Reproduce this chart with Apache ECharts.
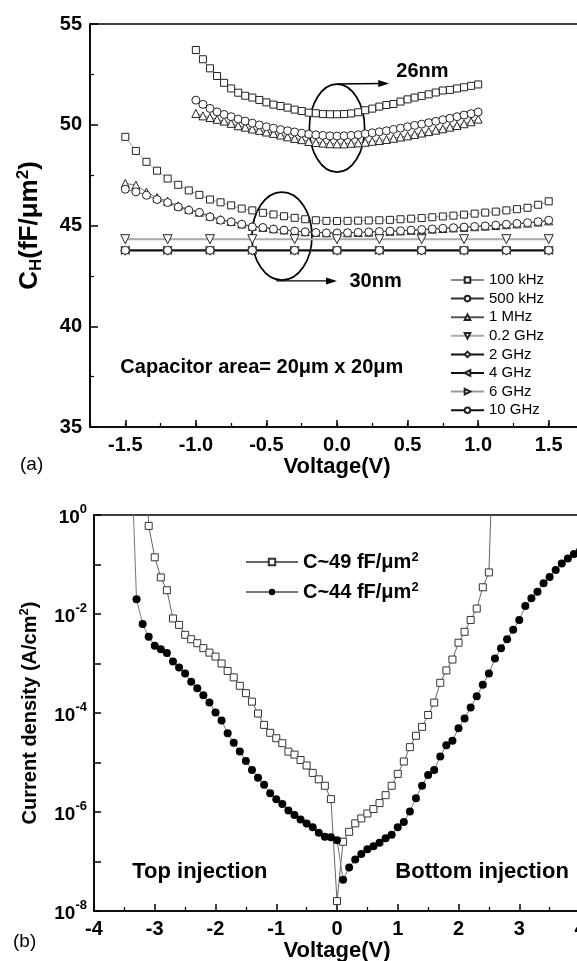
<!DOCTYPE html>
<html>
<head>
<meta charset="utf-8">
<title>Capacitance and leakage current</title>
<script src="https://cdn.jsdelivr.net/npm/echarts@6.0.0/dist/echarts.min.js"></script>
<style>
  html, body { margin: 0; padding: 0; background: #fff; }
  #main { width: 577px; height: 961px; }
</style>
</head>
<body>
<div id="main"></div>
<script>
  // ==== (a) C-V data ====
  const voltA26 = [-1.0, -0.95, -0.9, -0.85, -0.8, -0.75, -0.7, -0.65, -0.6, -0.55, -0.5, -0.45, -0.4, -0.35, -0.3, -0.25, -0.2, -0.15, -0.1, -0.05,
    0, 0.05, 0.1, 0.15, 0.2, 0.25, 0.3, 0.35, 0.4, 0.45, 0.5, 0.55, 0.6, 0.65, 0.7, 0.75, 0.8, 0.85, 0.9, 0.95, 1.0]
  const c26_100k = [53.71, 53.25, 52.8, 52.42, 52.08, 51.8, 51.59, 51.44, 51.35, 51.23, 51.11, 51.0, 50.93, 50.85, 50.75, 50.68, 50.6, 50.57, 50.53, 50.52,
    50.52, 50.53, 50.56, 50.62, 50.72, 50.8, 50.9, 50.98, 51.03, 51.15, 51.26, 51.35, 51.43, 51.51, 51.6, 51.7, 51.73, 51.8, 51.86, 51.93, 52.0]
  const c26_500k = [51.22, 51.01, 50.81, 50.64, 50.51, 50.4, 50.28, 50.18, 50.08, 49.99, 49.9, 49.83, 49.76, 49.7, 49.64, 49.58, 49.53, 49.5, 49.47, 49.45,
    49.44, 49.45, 49.47, 49.5, 49.55, 49.6, 49.65, 49.7, 49.77, 49.83, 49.9, 49.97, 50.03, 50.1, 50.17, 50.25, 50.32, 50.4, 50.48, 50.55, 50.63]
  const c26_1M = [50.56, 50.44, 50.36, 50.27, 50.18, 50.07, 49.95, 49.88, 49.79, 49.72, 49.64, 49.57, 49.49, 49.4, 49.32, 49.26, 49.17, 49.12, 49.09, 49.06,
    49.05, 49.05, 49.08, 49.1, 49.13, 49.18, 49.22, 49.27, 49.33, 49.39, 49.45, 49.52, 49.59, 49.66, 49.73, 49.8, 49.88, 49.96, 50.05, 50.15, 50.28]

  const voltA30 = [-1.5, -1.425, -1.35, -1.275, -1.2, -1.125, -1.05, -0.975, -0.9, -0.825, -0.75, -0.675, -0.6, -0.525, -0.45, -0.375, -0.3, -0.225, -0.15, -0.075,
    0, 0.075, 0.15, 0.225, 0.3, 0.375, 0.45, 0.525, 0.6, 0.675, 0.75, 0.825, 0.9, 0.975, 1.05, 1.125, 1.2, 1.275, 1.35, 1.425, 1.5]
  const c30_100k = [49.4, 48.7, 48.16, 47.72, 47.33, 47.02, 46.74, 46.52, 46.29, 46.15, 46.0, 45.84, 45.75, 45.63, 45.55, 45.46, 45.38, 45.31, 45.26, 45.23,
    45.22, 45.23, 45.24, 45.25, 45.26, 45.28, 45.31, 45.34, 45.37, 45.41, 45.45, 45.49, 45.54, 45.59, 45.64, 45.69, 45.75, 45.81, 45.88, 46.03, 46.2]
  const c30_500k = [46.8, 46.67, 46.5, 46.29, 46.14, 45.92, 45.76, 45.65, 45.43, 45.26, 45.18, 45.06, 44.93, 44.9, 44.82, 44.77, 44.72, 44.68, 44.65, 44.63,
    44.63, 44.64, 44.66, 44.68, 44.7, 44.72, 44.74, 44.77, 44.8, 44.83, 44.86, 44.89, 44.92, 44.95, 44.98, 45.02, 45.06, 45.1, 45.14, 45.19, 45.26]
  const c30_1M = [47.09, 47.0, 46.66, 46.38, 46.2, 45.98, 45.8, 45.66, 45.47, 45.3, 45.2, 45.08, 44.96, 44.91, 44.84, 44.78, 44.73, 44.69, 44.66, 44.64,
    44.63, 44.64, 44.65, 44.67, 44.69, 44.71, 44.73, 44.76, 44.79, 44.82, 44.85, 44.88, 44.91, 44.94, 44.97, 45.0, 45.04, 45.08, 45.12, 45.17, 45.23]

  const voltFlat = [-1.5, -1.2, -0.9, -0.6, -0.3, 0, 0.3, 0.6, 0.9, 1.2, 1.5]
  const c30_02G = [44.32, 44.32, 44.32, 44.32, 44.32, 44.32, 44.32, 44.32, 44.32, 44.32, 44.32]
  const c30_2G = [43.75, 43.75, 43.75, 43.75, 43.75, 43.75, 43.75, 43.75, 43.75, 43.75, 43.75]
  const c30_4G = [43.77, 43.77, 43.77, 43.77, 43.77, 43.77, 43.77, 43.77, 43.77, 43.77, 43.77]
  const c30_6G = [43.77, 43.77, 43.77, 43.77, 43.77, 43.77, 43.77, 43.77, 43.77, 43.77, 43.77]
  const c30_10G = [43.77, 43.77, 43.77, 43.77, 43.77, 43.77, 43.77, 43.77, 43.77, 43.77, 43.77]

  const freqNames = ['100 kHz', '500 kHz', '1 MHz', '0.2 GHz', '2 GHz', '4 GHz', '6 GHz', '10 GHz']
  const voltTicksA = [-1.5, -1.0, -0.5, 0, 0.5, 1.0, 1.5]

  // ==== (b) J-V data, log10(J) ====
  const voltSq = [-3.2, -3.1, -3.0, -2.9, -2.8, -2.7, -2.6, -2.5, -2.4, -2.3, -2.2, -2.1, -2.0, -1.9, -1.8, -1.7, -1.6, -1.5, -1.4, -1.3, -1.2, -1.1, -1.0,
    -0.9, -0.8, -0.7, -0.6, -0.5, -0.4, -0.3, -0.2, -0.1, 0.0, 0.1, 0.2, 0.3, 0.4, 0.5, 0.6, 0.7, 0.8, 0.9, 1.0, 1.1, 1.2, 1.3, 1.4, 1.5, 1.6, 1.7, 1.8,
    1.9, 2.0, 2.1, 2.2, 2.3, 2.4, 2.5, 2.6]
  const logJSq = [3.0, -0.22, -0.855, -1.26, -1.52, -2.09, -2.22, -2.42, -2.51, -2.59, -2.69, -2.78, -2.86, -3.0, -3.15, -3.28, -3.45, -3.6, -3.77, -4.01,
    -4.24, -4.4, -4.51, -4.61, -4.78, -4.84, -4.95, -5.06, -5.21, -5.34, -5.47, -5.74, -7.8, -6.6, -6.4, -6.23, -6.13, -6.03, -5.94, -5.82, -5.66,
    -5.47, -5.23, -4.98, -4.69, -4.46, -4.28, -4.04, -3.79, -3.39, -3.14, -2.92, -2.58, -2.36, -2.12, -1.89, -1.46, -1.16, 2.5]
  const voltCi = [-3.4, -3.3, -3.2, -3.1, -3.0, -2.9, -2.8, -2.7, -2.6, -2.5, -2.4, -2.3, -2.2, -2.1, -2.0, -1.9, -1.8, -1.7, -1.6, -1.5, -1.4, -1.3, -1.2,
    -1.1, -1.0, -0.9, -0.8, -0.7, -0.6, -0.5, -0.4, -0.3, -0.2, -0.1, 0.0, 0.1, 0.2, 0.3, 0.4, 0.5, 0.6, 0.7, 0.8, 0.9, 1.0, 1.1, 1.2, 1.3, 1.4, 1.5,
    1.6, 1.7, 1.8, 1.9, 2.0, 2.1, 2.2, 2.3, 2.4, 2.5, 2.6, 2.7, 2.8, 2.9, 3.0, 3.1, 3.2, 3.3, 3.4, 3.5, 3.6, 3.7, 3.8, 3.9, 4.0]
  const logJCi = [1.7, -1.7, -2.2, -2.46, -2.64, -2.71, -2.79, -2.96, -3.08, -3.2, -3.37, -3.5, -3.64, -3.79, -3.99, -4.15, -4.41, -4.6, -4.78, -4.97,
    -5.15, -5.31, -5.45, -5.62, -5.74, -5.84, -5.97, -6.06, -6.15, -6.23, -6.31, -6.42, -6.5, -6.51, -6.57, -7.37, -7.12, -6.96, -6.85, -6.75, -6.69,
    -6.62, -6.53, -6.46, -6.31, -6.2, -5.99, -5.72, -5.47, -5.25, -5.15, -4.88, -4.65, -4.56, -4.31, -4.11, -3.89, -3.66, -3.43, -3.2, -2.9, -2.69,
    -2.51, -2.32, -2.12, -1.84, -1.68, -1.55, -1.38, -1.25, -1.11, -0.98, -0.88, -0.79, -0.72]
  const jNames = ['C~49 fF/μm2', 'C~44 fF/μm2']

  // ==== helpers ====
  const FONT = '"Liberation Sans", Arial, Helvetica, sans-serif'
  const zip = (xs, ys) => xs.map((x, i) => [x, ys[i]])
  const toJ = (xs, logs) => xs.map((x, i) => {
    const item = { value: [x, Math.pow(10, logs[i])] }
    if (logs[i] > 0) item.symbol = 'none' // off-scale point, only steers the line
    return item
  })

  const capSeries = (name, xs, ys, symbol, opts = {}) => ({
    name,
    type: 'line',
    xAxisIndex: 0,
    yAxisIndex: 0,
    data: zip(xs, ys),
    symbol,
    symbolSize: opts.size || 7,
    symbolRotate: opts.rotate || 0,
    showSymbol: true,
    animation: false,
    itemStyle: { color: '#fff', borderColor: '#222', borderWidth: 1 },
    lineStyle: { color: opts.line || '#555', width: opts.width || 0.8 },
    emphasis: { disabled: true }
  })

  const axisLineStyle = { color: '#000', width: 1.6 }
  const tickLabel = { color: '#000', fontSize: 20, fontWeight: 'bold', fontFamily: FONT }
  const axisName = { color: '#000', fontSize: 22, fontWeight: 'bold', fontFamily: FONT }

  const chart = echarts.init(document.getElementById('main'))

  chart.setOption({
    backgroundColor: '#fff',
    animation: false,
    grid: [
      { left: 90, top: 24, width: 494, height: 403, outerBoundsMode: 'none', show: true, borderColor: '#000', borderWidth: 1.6 },
      { left: 94, top: 515, width: 486, height: 396, outerBoundsMode: 'none', show: true, borderColor: '#000', borderWidth: 1.6 }
    ],
    xAxis: [
      {
        gridIndex: 0,
        type: 'value',
        min: -1.75,
        max: 1.75,
        axisLine: { onZero: false, lineStyle: axisLineStyle },
        axisTick: { inside: true, length: 7, customValues: voltTicksA, lineStyle: { color: '#000', width: 1.5 } },
        axisLabel: { ...tickLabel, margin: 8, customValues: voltTicksA, formatter: (v) => v.toFixed(1) },
        splitLine: { show: false },
        name: 'Voltage(V)',
        nameLocation: 'middle',
        nameGap: 27,
        nameTextStyle: axisName
      },
      {
        gridIndex: 0,
        type: 'value',
        position: 'bottom',
        min: -1.75,
        max: 1.75,
        interval: 0.25,
        axisLine: { show: false, onZero: false },
        axisTick: { inside: true, length: 4, lineStyle: { color: '#000', width: 1.2 } },
        axisLabel: { show: false },
        splitLine: { show: false }
      },
      {
        gridIndex: 1,
        type: 'value',
        min: -4,
        max: 4,
        interval: 1,
        axisLine: { onZero: false, lineStyle: axisLineStyle },
        axisTick: { inside: true, length: 7, lineStyle: { color: '#000', width: 1.5 } },
        minorTick: { show: true, splitNumber: 2, length: 4, lineStyle: { color: '#000', width: 1.2 } },
        axisLabel: { ...tickLabel, margin: 8 },
        splitLine: { show: false },
        name: 'Voltage(V)',
        nameLocation: 'middle',
        nameGap: 22,
        nameTextStyle: axisName
      }
    ],
    yAxis: [
      {
        gridIndex: 0,
        type: 'value',
        min: 35,
        max: 55,
        interval: 5,
        axisLine: { onZero: false, lineStyle: axisLineStyle },
        axisTick: { inside: true, length: 8, lineStyle: { color: '#000', width: 1.5 } },
        minorTick: { show: true, splitNumber: 2, length: 4, lineStyle: { color: '#000', width: 1.2 } },
        axisLabel: { ...tickLabel, margin: 8 },
        splitLine: { show: false },
        name: '{b|C}{sub|H}{b|(fF/μm}{sup|2}{b|)}',
        nameLocation: 'middle',
        nameRotate: 90,
        nameGap: 45,
        nameTextStyle: {
          color: '#000',
          fontFamily: FONT,
          rich: {
            b: { fontSize: 26, fontWeight: 'bold', fontFamily: FONT, lineHeight: 30, verticalAlign: 'middle' },
            sub: { fontSize: 17, fontWeight: 'bold', fontFamily: FONT, lineHeight: 14, verticalAlign: 'bottom' },
            sup: { fontSize: 17, fontWeight: 'bold', fontFamily: FONT, lineHeight: 14, verticalAlign: 'top' }
          }
        }
      },
      {
        gridIndex: 1,
        type: 'log',
        logBase: 10,
        min: 1e-8,
        max: 1,
        splitNumber: 8,
        axisLine: { onZero: false, lineStyle: axisLineStyle },
        axisTick: { inside: true, length: 7, lineStyle: { color: '#000', width: 1.5 } },
        axisLabel: {
          margin: 7,
          formatter: (v) => {
            const e = Math.round(Math.log10(v))
            return e % 2 === 0 ? '{b|10}{s|' + e + '}' : ''
          },
          rich: {
            b: { color: '#000', fontSize: 19, fontWeight: 'bold', fontFamily: FONT, lineHeight: 24, verticalAlign: 'bottom' },
            s: { color: '#000', fontSize: 13, fontWeight: 'bold', fontFamily: FONT, lineHeight: 12, verticalAlign: 'top' }
          }
        },
        splitLine: { show: false },
        name: '{b|Current density (A/cm}{sup|2}{b|)}',
        nameLocation: 'middle',
        nameRotate: 90,
        nameGap: 52,
        nameTextStyle: {
          color: '#000',
          rich: {
            b: { fontSize: 20, fontWeight: 'bold', fontFamily: FONT, lineHeight: 24, verticalAlign: 'middle' },
            sup: { fontSize: 13, fontWeight: 'bold', fontFamily: FONT, lineHeight: 12, verticalAlign: 'top' }
          }
        }
      }
    ],
    legend: [
      {
        data: freqNames,
        orient: 'vertical',
        left: 445,
        top: 267,
        itemWidth: 33,
        itemHeight: 7,
        itemGap: 2.6,
        selectedMode: false,
        textStyle: { color: '#000', fontSize: 15, fontFamily: FONT, lineHeight: 16 }
      },
      {
        data: jNames,
        orient: 'vertical',
        left: 240,
        top: 546,
        itemWidth: 52,
        itemHeight: 8,
        itemGap: 8,
        selectedMode: false,
        formatter: (name) => name.replace('μm2', 'μm{s|2}'),
        textStyle: {
          color: '#000',
          fontSize: 20,
          fontWeight: 'bold',
          fontFamily: FONT,
          lineHeight: 22,
          rich: { s: { color: '#000', fontSize: 13, fontWeight: 'bold', fontFamily: FONT, lineHeight: 12, verticalAlign: 'top' } }
        }
      }
    ],
    series: [
      // 30 nm
      capSeries('100 kHz', voltA30, c30_100k, 'rect', { line: '#888' }),
      capSeries('1 MHz', voltA30, c30_1M, 'triangle', { size: 8 }),
      capSeries('500 kHz', voltA30, c30_500k, 'circle', { size: 8, line: '#333' }),
      capSeries('0.2 GHz', voltFlat, c30_02G, 'triangle', { size: 9, rotate: 180, line: '#aaa', width: 2 }),
      capSeries('2 GHz', voltFlat, c30_2G, 'diamond', { size: 9, line: '#111', width: 1.4 }),
      capSeries('4 GHz', voltFlat, c30_4G, 'triangle', { size: 8, rotate: 90, line: '#111', width: 1.4 }),
      capSeries('6 GHz', voltFlat, c30_6G, 'triangle', { size: 8, rotate: -90, line: '#999', width: 1.4 }),
      capSeries('10 GHz', voltFlat, c30_10G, 'circle', { size: 8, line: '#111', width: 1.5 }),
      // 26 nm
      capSeries('100 kHz', voltA26, c26_100k, 'rect', { line: '#888' }),
      capSeries('1 MHz', voltA26, c26_1M, 'triangle', { size: 8 }),
      capSeries('500 kHz', voltA26, c26_500k, 'circle', { size: 8, line: '#333' }),
      // (b)
      {
        name: jNames[0],
        type: 'line',
        xAxisIndex: 2,
        yAxisIndex: 1,
        data: toJ(voltSq, logJSq),
        symbol: 'rect',
        symbolSize: 7,
        itemStyle: { color: '#fff', borderColor: '#333', borderWidth: 1 },
        lineStyle: { color: '#666', width: 1 },
        emphasis: { disabled: true }
      },
      {
        name: jNames[1],
        type: 'line',
        xAxisIndex: 2,
        yAxisIndex: 1,
        data: toJ(voltCi, logJCi),
        symbol: 'circle',
        symbolSize: 8,
        itemStyle: { color: '#000' },
        lineStyle: { color: '#777', width: 1 },
        emphasis: { disabled: true }
      }
    ]
  })

  // ==== annotations (ellipses, arrows, texts) ====
  const pa = (x, y) => chart.convertToPixel({ xAxisIndex: 0, yAxisIndex: 0 }, [x, y])
  const pb = (x, y) => chart.convertToPixel({ xAxisIndex: 2, yAxisIndex: 1 }, [x, y])

  const ellipse = (c, rx, ry) => ({
    type: 'ellipse',
    shape: { cx: c[0], cy: c[1], rx, ry },
    style: { fill: 'none', stroke: '#000', lineWidth: 1.7 },
    silent: true
  })
  const arrow = (a, b) => [
    { type: 'line', shape: { x1: a[0], y1: a[1], x2: b[0] - 8, y2: b[1] }, style: { stroke: '#000', lineWidth: 1.4 }, silent: true },
    { type: 'polygon', shape: { points: [[b[0], b[1]], [b[0] - 11, b[1] - 3.5], [b[0] - 11, b[1] + 3.5]] }, style: { fill: '#000' }, silent: true }
  ]
  const label = (text, p, size, weight = 'bold') => ({
    type: 'text',
    silent: true,
    style: { text, x: p[0], y: p[1], fill: '#000', font: `${weight} ${size}px ${FONT}`, verticalAlign: 'middle' }
  })

  const e26 = pa(0.0, 49.83)
  const e30 = pa(-0.39, 44.47)
  const top26 = pa(0.0, 52.02)
  const bot30 = pa(-0.43, 42.25)

  chart.setOption({
    graphic: [
      ellipse(e26, 27.6, 44),
      ellipse(e30, 30, 44),
      ...arrow(top26, pa(0.37, 52.05)),
      ...arrow(bot30, pa(0.0, 42.25)),
      label('26nm', pa(0.42, 52.63), 20),
      label('30nm', pa(0.088, 42.2), 20),
      label('Capacitor area= 20μm x 20μm', pa(-1.535, 37.95), 20),
      label('Top injection', pb(-3.37, 6.2e-8), 22),
      label('Bottom injection', pb(0.96, 6.2e-8), 22),
      label('(a)', [20, 465], 19, 'normal'),
      label('(b)', [13, 942], 19, 'normal')
    ]
  })
</script>
</body>
</html>
